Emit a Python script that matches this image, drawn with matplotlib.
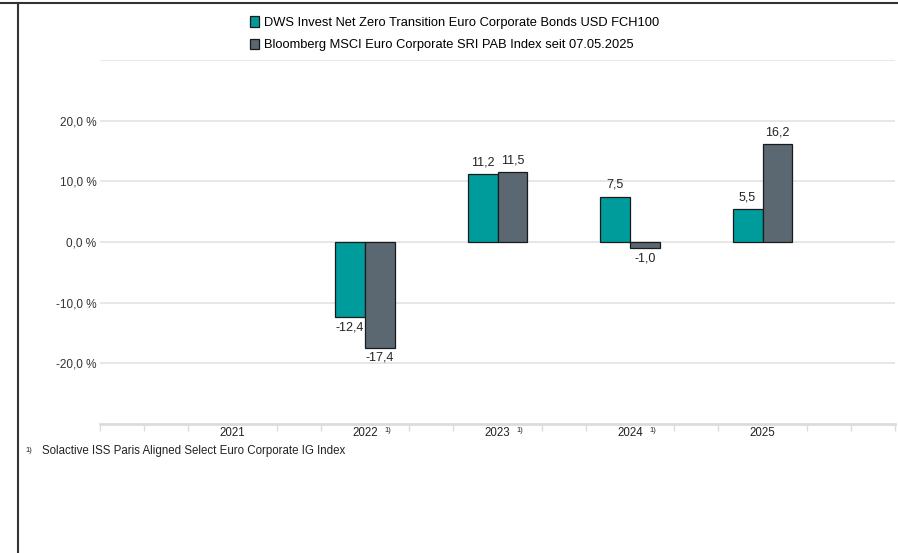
import numpy as np
import matplotlib
matplotlib.use("Agg")
import matplotlib.pyplot as plt
from matplotlib.lines import Line2D
from matplotlib.patches import Patch

plt.rcParams['font.family'] = ['Liberation Sans', 'DejaVu Sans']

# Daten
years = ["2021", "2022", "2023", "2024", "2025"]
footnote_years = ["2022", "2023", "2024"]
fund = [np.nan, -12.4, 11.2, 7.5, 5.5]
benchmark = [np.nan, -17.4, 11.5, -1.0, 16.2]
fund_name = "DWS Invest Net Zero Transition Euro Corporate Bonds USD FCH100"
bench_name = "Bloomberg MSCI Euro Corporate SRI PAB Index seit 07.05.2025"
footnote = "Solactive ISS Paris Aligned Select Euro Corporate IG Index"

teal = "#009c9c"
grey = "#5b6872"

fig = plt.figure(figsize=(8.98, 5.53), dpi=100)
ax = fig.add_axes([100 / 898, 1 - 424 / 553, 795 / 898, 364 / 553])

x = np.arange(len(years))
w = 0.226
b1 = ax.bar(x - w / 2, fund, w, color=teal, edgecolor="#1a1a1a", linewidth=0.9, zorder=3)
b2 = ax.bar(x + w / 2, benchmark, w, color=grey, edgecolor="#1a1a1a", linewidth=0.9, zorder=3)

# Werte an die Balken schreiben
for bars, vals in ((b1, fund), (b2, benchmark)):
    for bar, v in zip(bars, vals):
        if np.isnan(v):
            continue
        lab = f"{v:.1f}".replace(".", ",")
        cx = bar.get_x() + bar.get_width() / 2
        if v >= 0:
            ax.annotate(lab, (cx, v), xytext=(0, 4), textcoords="offset points",
                        ha="center", va="bottom", fontsize=9, color="#222222")
        else:
            ax.annotate(lab, (cx, v), xytext=(0, -3), textcoords="offset points",
                        ha="center", va="top", fontsize=9, color="#222222")

ax.set_xlim(-1, len(years))
ax.set_ylim(-30, 30)

for g in [-20, -10, 0, 10, 20, 30]:
    ax.axhline(g, color="#e3e3e3", linewidth=1.2, zorder=1)

for s in ["top", "right", "left"]:
    ax.spines[s].set_visible(False)
ax.spines["bottom"].set_color("#dcdcdc")
ax.spines["bottom"].set_linewidth(2)

ax.set_yticks([-20, -10, 0, 10, 20])
ax.set_yticklabels([f"{t:.1f} %".replace(".", ",") for t in [-20, -10, 0, 10, 20]],
                   fontsize=8.5, color="#333333")
ax.tick_params(axis="y", length=0, pad=2.5)

# kleine Striche an der x-Achse, aber nicht unter den Jahren
minor = [i / 3 for i in range(-3, 3 * len(years) + 1) if i % 3 != 0 or i in (-3, 3 * len(years))]
ax.set_xticks(minor, minor=True)
ax.tick_params(axis="x", which="minor", length=5, color="#dcdcdc", width=1)
ax.set_xticks(x)
ax.set_xticklabels(years, fontsize=8.3, color="#222222")
ax.tick_params(axis="x", which="major", length=0, pad=2)

for i, y in enumerate(years):
    if y in footnote_years:
        ax.annotate("1)", (i, 0), xycoords=("data", "axes fraction"), xytext=(14, -5),
                    textcoords="offset points", fontsize=5.5, ha="left", va="center",
                    color="#222222")

fig.text(25 / 898, 1 - 451 / 553, "1)", fontsize=5.5, va="center", ha="left", color="#222222")
fig.text(42 / 898, 1 - 451 / 553, footnote, fontsize=8.3, va="center", ha="left", color="#222222")

handles = [Patch(facecolor=teal, edgecolor="#1a1a1a", linewidth=0.9),
           Patch(facecolor=grey, edgecolor="#1a1a1a", linewidth=0.9)]
fig.legend(handles, [fund_name, bench_name], loc="upper left",
           bbox_to_anchor=(250 / 898, 1 - 16 / 553), frameon=False, fontsize=9.3,
           handlelength=0.7, handleheight=0.9, handletextpad=0.4, labelspacing=0.75,
           borderaxespad=0, borderpad=0)

# Rahmen oben und links
fig.add_artist(Line2D([0, 1], [1 - 3 / 553, 1 - 3 / 553], transform=fig.transFigure,
                      color="#333333", linewidth=1.5))
fig.add_artist(Line2D([18 / 898, 18 / 898], [0, 1 - 3 / 553], transform=fig.transFigure,
                      color="#333333", linewidth=1.5))

fig.savefig("out.png", dpi=100)
